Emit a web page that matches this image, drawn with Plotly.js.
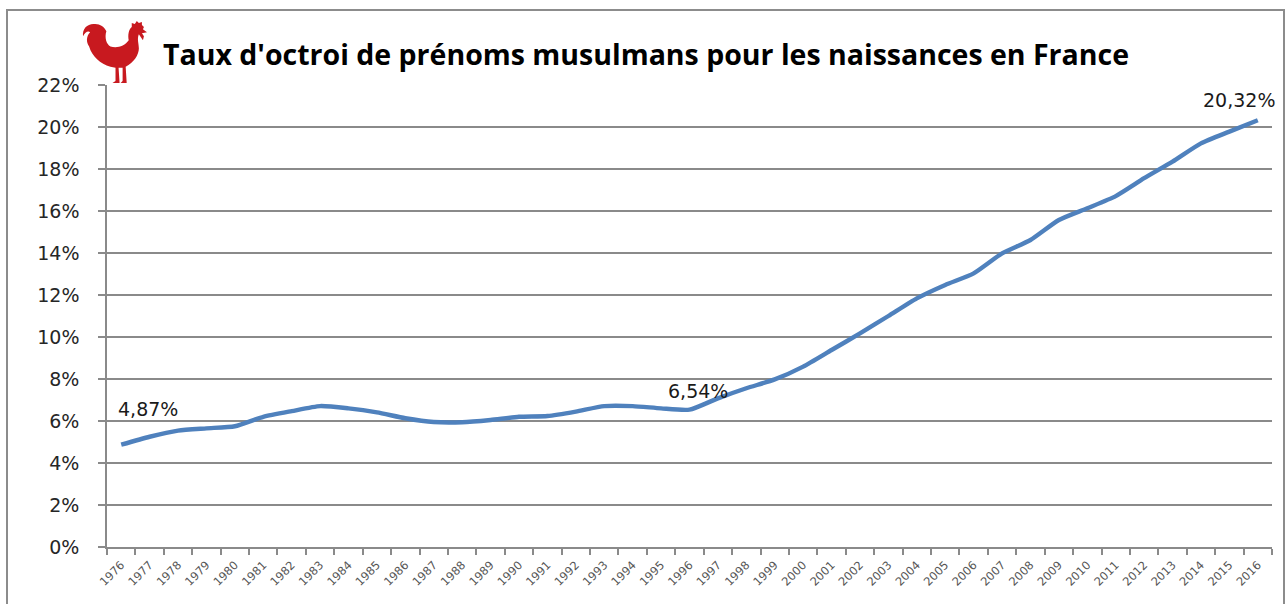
<!DOCTYPE html>
<html>
<head>
<meta charset="utf-8">
<script src="https://cdn.plot.ly/plotly-3.0.1.min.js"></script>
<style>html,body{margin:0;padding:0;background:#fff;}#chart{width:1287px;height:604px;}</style>
</head>
<body>
<div id="chart"></div>
<script>
// ---- Data ----
const years = ['1976','1977','1978','1979','1980','1981','1982','1983','1984','1985','1986','1987','1988','1989','1990','1991','1992','1993','1994','1995','1996','1997','1998','1999','2000','2001','2002','2003','2004','2005','2006','2007','2008','2009','2010','2011','2012','2013','2014','2015','2016'];
const rates = [4.87,5.25,5.54,5.65,5.75,6.20,6.47,6.71,6.60,6.41,6.13,5.95,5.94,6.05,6.20,6.24,6.45,6.71,6.71,6.60,6.54,7.08,7.56,7.98,8.59,9.38,10.17,11.00,11.84,12.48,13.03,13.98,14.62,15.57,16.13,16.71,17.56,18.35,19.22,19.78,20.32];
const labelledYears = ['1976','1996','2016'];
const yTicks = [0,2,4,6,8,10,12,14,16,18,20,22];
const yTickText = ['0%','2%','4%','6%','8%','10%','12%','14%','16%','18%','20%','22%'];
const titleText = "Taux d'octroi de prénoms musulmans pour les naissances en France";

// ---- Styles ----
const labelShifts = [[27,36],[8,19],[-19,20]];
const gridCol = '#8a8a8a';

const fmt = v => v.toFixed(2).replace('.', ',') + '%';

const annotations = labelledYears.map((yr, i) => {
  const idx = years.indexOf(yr);
  return {
    x: idx, y: rates[idx], xref: 'x', yref: 'y',
    text: fmt(rates[idx]), showarrow: false,
    xshift: labelShifts[i][0], yshift: labelShifts[i][1],
    font: {family: 'DejaVu Sans', size: 19, color: '#1a1a1a'}
  };
});

const rooster = 'data:image/svg+xml;utf8,' + encodeURIComponent(
  '<svg xmlns="http://www.w3.org/2000/svg" viewBox="0 0 66 62"><path fill="#c8191f" d="' +
  'M14 3 C7 2 1 7 2 15 C4 11 7 9 9 11 C5 15 5 21 8 25 C11 35 19 42 29 45 ' +
  'L34 46 L34 59 L31 61 L38 61 L37 46 L41 46 L41 59 L39 61 L45 61 L44 45 ' +
  'C52 41 57 33 57 27 C57 22 55 18 57 13 L59 16 L61 19 L62 15 L60 12 L65 11 L61 8 L62 6 L60 4 L60 1 L57 2 L55 0 L53 3 L50 2 L50 6 ' +
  'C47 8 46 14 47 19 C43 25 35 27 29 25 C25 23 23 16 25 10 C23 6 19 3 14 3 Z"/></svg>');

const trace = {
  x: years, y: rates, type: 'scatter', mode: 'lines',
  line: {color: '#4F81BD', width: 4.4, shape: 'spline', smoothing: 0.6},
  hoverinfo: 'x+y'
};

const W = 1287, H = 604, L = 107, R = 15, T = 85, B = 57;
const pw = W - L - R, ph = H - T - B;
const px = v => (v - L) / pw;
const py = v => (H - B - v) / ph;

const layout = {
  width: W, height: H,
  margin: {l: L, r: R, t: T, b: B},
  paper_bgcolor: '#fff', plot_bgcolor: '#fff',
  showlegend: false,
  title: {
    text: titleText,
    font: {family: 'Open Sans', size: 28.5, weight: 'bold', color: '#000'},
    xref: 'paper', x: px(163), xanchor: 'left',
    yref: 'container', y: 1 - 55 / H, yanchor: 'middle'
  },
  xaxis: {
    type: 'category', range: [-0.5, years.length - 0.5],
    tickmode: 'linear', tick0: 0, dtick: 1,
    tickangle: -45, tickson: 'boundaries',
    ticks: 'outside', ticklen: 6, tickcolor: gridCol, tickwidth: 1.5,
    showline: true, linecolor: gridCol, linewidth: 1.5,
    showgrid: false, zeroline: false,
    ticklabelstandoff: 5,
    tickfont: {family: 'DejaVu Sans', size: 11.5, color: '#555'}
  },
  yaxis: {
    range: [0, 22], tickmode: 'array', tickvals: yTicks, ticktext: yTickText,
    ticks: 'outside', ticklen: 7, tickcolor: gridCol, tickwidth: 1.5,
    showline: true, linecolor: gridCol, linewidth: 1.5,
    showgrid: true, gridcolor: gridCol, gridwidth: 1.6, zeroline: false,
    ticklabelstandoff: 15,
    tickfont: {family: 'DejaVu Sans', size: 19, color: '#262626'}
  },
  annotations: annotations,
  images: [{
    source: rooster, xref: 'paper', yref: 'paper',
    x: px(81), y: py(21), sizex: 67 / pw, sizey: 63 / ph,
    xanchor: 'left', yanchor: 'top', sizing: 'stretch', layer: 'above'
  }],
  shapes: [{
    type: 'rect', xref: 'paper', yref: 'paper',
    x0: px(7), x1: px(1284), y0: py(640), y1: py(10),
    line: {color: '#8c8c8c', width: 2}, layer: 'below'
  }]
};

Plotly.newPlot('chart', [trace], layout, {displayModeBar: false, responsive: false});
</script>
</body>
</html>
